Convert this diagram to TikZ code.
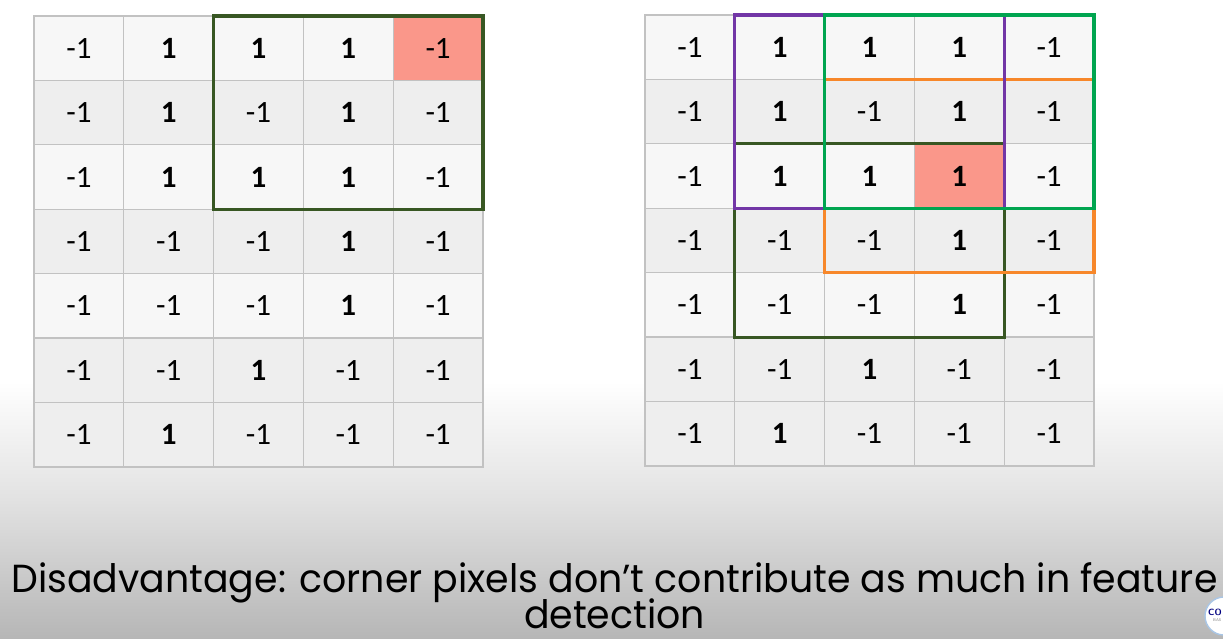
\documentclass[tikz,border=0pt]{standalone}
\usepackage{fontspec}
\usepackage{graphicx}
\setmainfont{Carlito}
\newfontfamily\capfont{Poppins}
\definecolor{gridline}{HTML}{C2C2C2}
\definecolor{rowA}{HTML}{F7F7F7}
\definecolor{rowB}{HTML}{EEEEEE}
\definecolor{hl}{HTML}{FA978A}
\definecolor{dkgreen}{HTML}{385723}
\definecolor{brgreen}{HTML}{00A550}
\definecolor{orng}{HTML}{F7872A}
\definecolor{purp}{HTML}{7236A6}
\definecolor{bgmid}{HTML}{E2E2E2}
\definecolor{bgbot}{HTML}{B6B6B6}
\definecolor{logoblue}{HTML}{A9C6E6}
\newcommand{\B}{\textbf{1}}
\newsavebox\capA
\newsavebox\capB
\begin{document}
\sbox\capA{\capfont\fontsize{38}{40}\selectfont Disadvantage: corner pixels don’t contribute as much in feature}%
\sbox\capB{\capfont\fontsize{38}{40}\selectfont detection}%
\begin{tikzpicture}[x=1pt,y=-1pt,
  cell/.style={draw=gridline, line width=1.3pt, minimum width=89.8pt, minimum height=64.43pt,
    inner sep=0pt, outer sep=0pt, font=\fontsize{31}{34}\selectfont},
  box/.style={line width=3.2pt},
  captext/.style={anchor=base, inner sep=0pt}]
\useasboundingbox (0,0) rectangle (1223,639);
\clip (0,0) rectangle (1223,639);
% background
\fill[white] (0,0) rectangle (1223,382);
\shade[top color=white, bottom color=bgmid] (0,381) rectangle (1223,500);
\shade[top color=bgmid, bottom color=bgbot] (0,499) rectangle (1223,639);
% grids
\foreach \rowvals [count=\r from 0] in {{-1,\B,\B,\B,-1},{-1,\B,-1,\B,-1},{-1,\B,\B,\B,-1},{-1,-1,-1,\B,-1},{-1,-1,-1,\B,-1},{-1,-1,\B,-1,-1},{-1,\B,-1,-1,-1}}{
  \foreach \v [count=\c from 0] in \rowvals {
    \ifodd\r\def\fc{rowB}\else\def\fc{rowA}\fi
    \ifnum\r>4\def\fc{rowB}\fi
    \node[cell, fill=\fc] (L-\r-\c) at ({34+44.9+89.8*\c},{16+32.2+64.43*\r}) {\v};
    \node[cell, fill=\fc] (R-\r-\c) at ({645+44.9+89.8*\c},{15+32.2+64.43*\r}) {\v};
  }
}
% highlighted cells
\node[cell, fill=hl] (Lhl) at (L-0-4) {-1};
\node[cell, fill=hl] (Rhl) at (R-2-3) {\B};
% left window
\draw[box, dkgreen] (L-0-2.north west) rectangle (L-2-4.south east);
% right windows
\draw[box, dkgreen] (R-2-1.north west) rectangle (R-4-3.south east);
\draw[box, orng] (R-1-2.north west) rectangle (R-3-4.south east);
\draw[box, purp] (R-0-1.north west) rectangle (R-2-3.south east);
\draw[box, brgreen] (R-0-2.north west) rectangle (R-2-4.south east);
% caption (two centred lines in one node)
\pgfmathsetmacro\xs{1206/\the\wd\capA}
\node[captext] (cap) at (614.5,628) {\makebox[0pt]{\raisebox{36pt}{\scalebox{\xs}[1.03]{\usebox\capA}}}\makebox[0pt]{\scalebox{\xs}[1.03]{\usebox\capB}}};
% logo (partly cut off)
\node[circle, draw=logoblue, line width=1.4pt, fill=white, minimum size=38pt, inner sep=0pt] (logo) at (1224,616) {};
\node[font=\sffamily\bfseries\fontsize{9}{9}\selectfont, text=blue!50!black, anchor=west, inner sep=0pt] (logoA) at (1208,612) {CO};
\node[font=\sffamily\fontsize{4}{4}\selectfont, text=gray, anchor=west, inner sep=0pt] (logoB) at (1213,620) {BAS};
\end{tikzpicture}
\end{document}
